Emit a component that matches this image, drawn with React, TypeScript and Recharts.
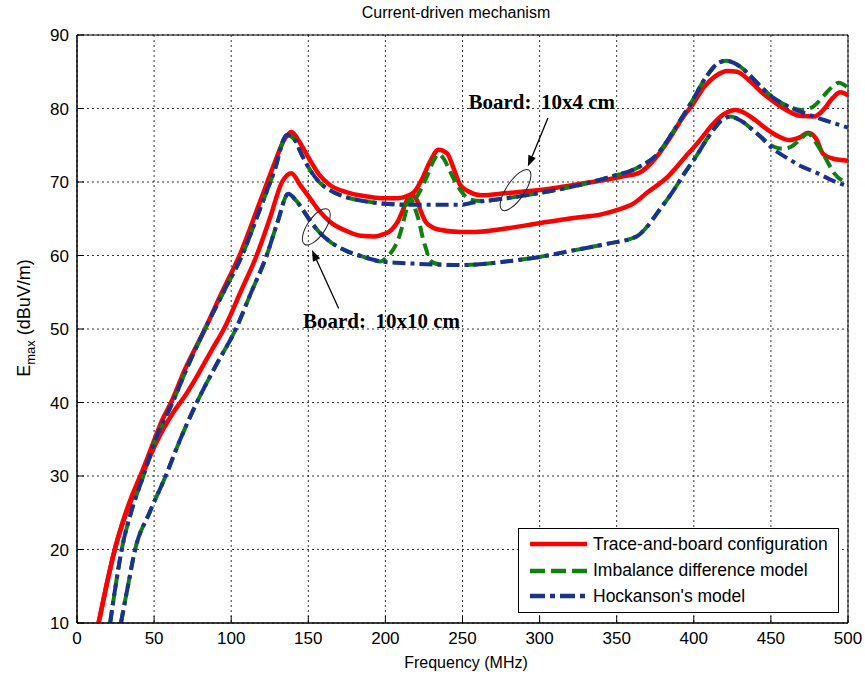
import React from 'react';
import {
  LineChart,
  Line,
  XAxis,
  YAxis,
  CartesianGrid,
  ReferenceArea,
  ReferenceDot,
  ReferenceLine,
} from 'recharts';

// frequency (MHz), Emax (dBuV/m)
const traceBoard10x4 = [
  [14, 10], [19, 15], [24.5, 20], [30, 24], [36, 27.5], [42, 30.5], [48.5, 34], [55, 37.5],
  [61, 40], [70, 44.5], [83, 50], [94, 55], [106, 60.3], [119, 67.5], [128, 72.5], [134, 75.6],
  [139, 76.8], [145, 75.2], [151, 73], [157, 71], [164, 69.6], [175, 68.6], [186, 68.1],
  [198, 67.8], [208, 67.8], [214, 68.1], [219, 68.7], [224, 70.5], [229, 72.8], [234.5, 74.4],
  [240, 73.9], [244, 72], [248.5, 69.6], [254, 68.7], [262, 68.2], [279, 68.5], [300, 68.9],
  [322, 69.6], [340, 70.2], [355, 70.8], [365, 71.3], [372, 72.5], [378, 74], [384, 75.8],
  [392, 78.5], [400, 80.8], [407, 83], [414, 84.4], [422, 85.1], [428, 85], [436, 83.8],
  [444, 82.2], [452, 80.9], [460, 79.8], [469, 79], [478, 78.9], [484, 79.8], [490, 81.4],
  [495, 82.2], [500, 81.8],
];

const traceBoard10x10 = [
  [14, 10], [19, 15], [24.5, 20], [32, 25], [42, 30], [52, 34.8], [62, 38.5], [71, 41.2],
  [79, 44], [87, 47], [96, 50.3], [106, 55], [116.5, 60], [125, 65], [133, 70], [139, 71.2],
  [145, 69.5], [151, 67.8], [157, 66.1], [164, 64.6], [174, 63.4], [184, 62.7], [193, 62.6],
  [199, 62.9], [204, 63.5], [208, 64.6], [211, 66], [214, 67.5], [217, 68.2], [220.5, 67.5],
  [223, 66], [226, 64.6], [230, 63.9], [235, 63.5], [249, 63.2], [258, 63.2], [279, 63.7],
  [300, 64.4], [322, 65.1], [340, 65.6], [352, 66.3], [361, 67.1], [370, 68.6], [383, 70.7],
  [394, 73.3], [404, 75.7], [412, 77.8], [420, 79.3], [427, 79.8], [433, 79.4], [440, 78.4],
  [448, 77.1], [455, 76.2], [462, 75.7], [469, 76.1], [474, 76.7], [479, 76], [484, 73.8],
  [490, 73.2], [500, 72.9],
];

const imbalance10x4 = [
  [21.5, 10], [25, 15], [29, 20], [35, 25], [43, 30], [51, 35], [62, 40], [72, 45], [83, 50],
  [95, 55], [107, 60], [119, 66.5], [128, 71.5], [136, 76.4], [141, 75.8], [146, 73.6],
  [151, 71.7], [157, 70], [164, 68.9], [175, 67.9], [186, 67.4], [197, 67.1], [212, 66.9],
  [217, 67.1], [222, 68.6], [227, 70.8], [231, 72.8], [234.5, 73.8], [238, 73.1], [242, 71.4],
  [246, 69.8], [250, 68.5], [255, 67.6], [262, 67.4], [279, 67.8], [300, 68.5], [322, 69.4],
  [344, 70.6], [365, 72.1], [376, 73.7], [387, 77], [398, 80.7], [409, 84.6], [416, 86.2],
  [421, 86.5], [426, 86.2], [434, 85], [441, 83.5], [452, 81.4], [461, 80.3], [470, 79.8],
  [477, 80.2], [484.5, 81.8], [490, 83], [494, 83.5], [500, 82.8],
];

const imbalance10x10 = [
  [28.5, 10], [33, 15], [37.7, 20], [47, 25], [57.5, 30], [67, 35], [77.7, 40], [90, 45],
  [103, 50], [113, 55], [123, 60], [130, 64.5], [137, 68.4], [142, 67.5], [151, 64.8],
  [157, 63.2], [164, 61.9], [175, 60.6], [186, 59.8], [197, 59.2], [201, 59.8], [205, 60.8],
  [208, 62], [211, 64], [213, 65.7], [216, 67.8], [219.5, 66.2], [222, 64.5], [224, 62.6],
  [226.5, 60.8], [229, 59.3], [235, 58.8], [249, 58.7], [279, 59.2], [300, 59.8], [322, 60.7],
  [344, 61.6], [363, 62.6], [370, 64], [376, 65.7], [387, 68.9], [394, 71.2], [400, 73],
  [411, 76.6], [418, 78.4], [424, 78.9], [430, 78.4], [441, 76.6], [452, 74.8], [458, 74.5],
  [463, 74.8], [469, 75.8], [474, 76.6], [479, 75.4], [485, 73.4], [491, 71.2], [500, 69.8],
];

const hockanson10x4 = [
  [21.5, 10], [25, 15], [29, 20], [35, 25], [43, 30], [51, 35], [62, 40], [72, 45], [83, 50],
  [95, 55], [107, 60], [119, 66.5], [128, 71.5], [136, 76.4], [141, 75.8], [146, 73.6],
  [151, 71.7], [157, 70], [164, 68.9], [175, 67.9], [186, 67.4], [197, 67.1], [218, 66.9],
  [249, 66.9], [257, 67.2], [279, 67.8], [300, 68.5], [322, 69.4], [344, 70.6], [365, 72.1],
  [376, 73.7], [387, 77], [398, 80.7], [409, 84.6], [416, 86.2], [421, 86.5], [426, 86.2],
  [434, 85], [441, 83.5], [452, 81.4], [461, 80.3], [470, 79.5], [485, 78.4], [500, 77.4],
];

const hockanson10x10 = [
  [28.5, 10], [33, 15], [37.7, 20], [47, 25], [57.5, 30], [67, 35], [77.7, 40], [90, 45],
  [103, 50], [113, 55], [123, 60], [130, 64.5], [137, 68.4], [142, 67.5], [151, 64.8],
  [157, 63.2], [164, 61.9], [175, 60.6], [186, 59.8], [197, 59.2], [218, 58.9], [249, 58.7],
  [279, 59.2], [300, 59.8], [322, 60.7], [344, 61.6], [363, 62.6], [370, 64], [376, 65.7],
  [387, 68.9], [394, 71.2], [400, 73], [411, 76.6], [418, 78.4], [424, 78.9], [430, 78.4],
  [441, 76.6], [452, 74.4], [461, 73.2], [470, 72.1], [478, 71.4], [491, 70.1], [500, 69.4],
];

const xTicks = [0, 50, 100, 150, 200, 250, 300, 350, 400, 450, 500];
const yTicks = [10, 20, 30, 40, 50, 60, 70, 80, 90];

const RED = '#ff0000';
const GREEN = '#108010';
const BLUE = '#1a3390';

const legendItems = [
  { name: 'Trace-and-board configuration', color: RED, dash: undefined },
  { name: 'Imbalance difference model', color: GREEN, dash: '15 6' },
  { name: "Hockanson's model", color: BLUE, dash: '15 5 5 5' },
];

const toPoints = (rows: number[][]) => rows.map(([f, e]) => ({ f, e }));

const SANS = '"Liberation Sans", Arial, Helvetica, sans-serif';
const SERIF = '"Liberation Serif", "Times New Roman", serif';

const Arrow = (props: any) => {
  const { x1, y1, x2, y2 } = props;
  const dx = x2 - x1;
  const dy = y2 - y1;
  const len = Math.hypot(dx, dy) || 1;
  const ux = dx / len;
  const uy = dy / len;
  const bx = x2 - ux * 11;
  const by = y2 - uy * 11;
  const pts = `${x2},${y2} ${bx - uy * 4},${by + ux * 4} ${bx + uy * 4},${by - ux * 4}`;
  return (
    <g>
      <line x1={x1} y1={y1} x2={bx} y2={by} stroke="#000" strokeWidth={1.3} />
      <polygon points={pts} fill="#000" />
    </g>
  );
};

const ellipseShape = (rx: number, ry: number, angle: number) => (props: any) => (
  <ellipse
    cx={props.cx}
    cy={props.cy}
    rx={rx}
    ry={ry}
    transform={`rotate(${angle} ${props.cx} ${props.cy})`}
    fill="none"
    stroke="#222"
    strokeWidth={1}
  />
);

const textShape = (label: string) => (props: any) => (
  <text x={props.cx} y={props.cy} fontFamily={SERIF} fontSize={21} fontWeight="bold" fill="#000">
    {label}
  </text>
);

const YLabel = () => (
  <text
    x={30}
    y={318}
    transform="rotate(-90 30 318)"
    textAnchor="middle"
    fontFamily={SANS}
    fontSize={18}
    fill="#000"
  >
    E
    <tspan fontSize={13} dy={5}>max</tspan>
    <tspan dy={-5}> (dBuV/m)</tspan>
  </text>
);

const XLabel = () => (
  <text x={466} y={668} textAnchor="middle" fontFamily={SANS} fontSize={16} fill="#000">
    Frequency (MHz)
  </text>
);

const Legend = () => (
  <div
    style={{
      position: 'absolute',
      left: 518,
      top: 528,
      width: 319,
      height: 83,
      border: '1px solid #000',
      background: '#fff',
      fontFamily: SANS,
      fontSize: 17.5,
    }}
  >
    {legendItems.map((item, i) => (
      <div
        key={item.name}
        style={{
          position: 'absolute',
          left: 11,
          top: [15, 41.5, 67][i] - 11,
          height: 22,
          display: 'flex',
          alignItems: 'center',
          whiteSpace: 'nowrap',
        }}
      >
        <svg width={58} height={22} style={{ marginRight: 5 }}>
          <line x1={0} y1={11} x2={57} y2={11} stroke={item.color} strokeWidth={4.5} strokeDasharray={item.dash} />
        </svg>
        <span>{item.name}</span>
      </div>
    ))}
  </div>
);

export default function App() {
  return (
    <div style={{ position: 'absolute', left: 0, top: 0, width: 865, height: 675, background: '#fff' }}>
      <div
        style={{
          position: 'absolute',
          left: 0,
          width: 912,
          top: 4,
          textAlign: 'center',
          fontFamily: SANS,
          fontSize: 16,
          color: '#000',
        }}
      >
        Current-driven mechanism
      </div>
      <LineChart width={865} height={675} margin={{ top: 35, right: 17, bottom: 0, left: 0 }}>
        <CartesianGrid stroke="#000" strokeWidth={0.8} strokeDasharray="2 3" />
        <XAxis
          dataKey="f"
          type="number"
          domain={[0, 500]}
          ticks={xTicks}
          height={52}
          stroke="#000"
          tickSize={-7}
          tickMargin={16}
          tick={{ fill: '#000', fontSize: 17, fontFamily: SANS }}
          label={{ content: XLabel }}
        />
        <YAxis
          type="number"
          domain={[10, 90]}
          ticks={yTicks}
          width={77}
          allowDataOverflow
          stroke="#000"
          tickSize={-7}
          tickMargin={15}
          tick={{ fill: '#000', fontSize: 17, fontFamily: SANS }}
          label={{ content: YLabel }}
        />
        <ReferenceArea x1={0} x2={500} y1={10} y2={90} fill="none" stroke="#000" strokeWidth={1} />

        <Line data={toPoints(traceBoard10x4)} dataKey="e" type="monotone" stroke={RED} strokeWidth={4.5} dot={false} activeDot={false} isAnimationActive={false} />
        <Line data={toPoints(traceBoard10x10)} dataKey="e" type="monotone" stroke={RED} strokeWidth={4.5} dot={false} activeDot={false} isAnimationActive={false} />
        <Line data={toPoints(imbalance10x4)} dataKey="e" type="monotone" stroke={GREEN} strokeWidth={4} strokeDasharray="12 6" dot={false} activeDot={false} isAnimationActive={false} />
        <Line data={toPoints(imbalance10x10)} dataKey="e" type="monotone" stroke={GREEN} strokeWidth={4} strokeDasharray="12 6" dot={false} activeDot={false} isAnimationActive={false} />
        <Line data={toPoints(hockanson10x4)} dataKey="e" type="monotone" stroke={BLUE} strokeWidth={4} strokeDasharray="13 5 4 5" dot={false} activeDot={false} isAnimationActive={false} />
        <Line data={toPoints(hockanson10x10)} dataKey="e" type="monotone" stroke={BLUE} strokeWidth={4} strokeDasharray="13 5 4 5" dot={false} activeDot={false} isAnimationActive={false} />

        <ReferenceLine segment={[{ x: 305.4, y: 78.7 }, { x: 292.4, y: 72.1 }]} shape={Arrow} />
        <ReferenceLine segment={[{ x: 169.7, y: 52.8 }, { x: 152.4, y: 60.75 }]} shape={Arrow} />
        <ReferenceDot x={284.4} y={68.9} r={1} shape={ellipseShape(9, 24, 34)} />
        <ReferenceDot x={155.2} y={63.9} r={1} shape={ellipseShape(9, 21, 34)} />
        <ReferenceDot x={253.9} y={79.9} r={1} shape={textShape('Board:\u2009 10x4 cm')} />
        <ReferenceDot x={146.6} y={50.1} r={1} shape={textShape('Board:\u2009 10x10 cm')} />
      </LineChart>
      <Legend />
    </div>
  );
}
